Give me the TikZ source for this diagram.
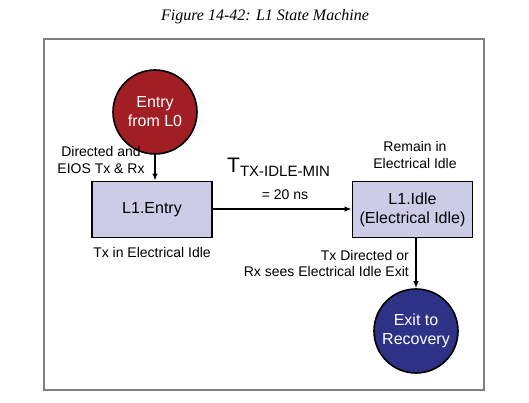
\documentclass[tikz,border=0pt]{standalone}
\usepackage{fontspec}
\setmainfont{Liberation Sans}
\newfontfamily\titlefont{Liberation Serif}
\usetikzlibrary{arrows.meta}
\definecolor{entryred}{HTML}{A11E25}
\definecolor{exitblue}{HTML}{2E3286}
\definecolor{boxfill}{HTML}{CCCCE6}
\definecolor{framegray}{HTML}{7F7F7F}
\tikzset{
  statebox/.style={draw=black, line width=1.8pt, fill=boxfill, minimum width=120pt, minimum height=56pt, align=center, font=\fontsize{16}{19}\selectfont, inner sep=0pt},
  statecirc/.style={circle, draw=black, line width=1.6pt, minimum size=84pt, inner sep=0pt, align=center, text=white, font=\fontsize{16}{19}\selectfont},
  lbl/.style={font=\fontsize{14}{17}\selectfont, inner sep=0pt},
  conn/.style={line width=1.4pt, -{Latex[length=7pt,width=5.5pt]}}
}
\begin{document}
\begin{tikzpicture}[x=1pt,y=1pt]
\useasboundingbox (0,0) rectangle (529,403);
\fill[white] (0,0) rectangle (529,403);
\node (title) at (265,386) {\titlefont\itshape\fontsize{16}{18}\selectfont Figure 14-42: L1 State Machine};
\draw[framegray, line width=1.5pt] (44,13) rectangle (484,364);
\node[statecirc, fill=entryred] (entry) at (155,291) {Entry\\from L0};
\node[statebox] (l1entry) at (152,193.5) {L1.Entry};
\node[statebox] (l1idle) at (412.5,193.5) {L1.Idle\\(Electrical Idle)};
\node[statecirc, fill=exitblue] (exit) at (416,72) {Exit to\\Recovery};
\draw[conn] (entry.south) -- (entry.south |- l1entry.north);
\draw[conn] (l1entry.east |- 0,194) -- (l1idle.west |- 0,194);
\draw[conn] (exit.north |- l1idle.south) -- (exit.north);
\node[lbl, align=center] (lblA) at (101,243) {Directed and\\EIOS Tx \& Rx};
\node[lbl] (lblB) at (152,150) {Tx in Electrical Idle};
\node[lbl, align=center] (lblC) at (415,247.5) {Remain in\\Electrical Idle};
\node[lbl, align=right, anchor=east] (lblD) at (409,139.5) {Tx Directed or\\Rx sees Electrical Idle Exit};
\node[inner sep=0pt, anchor=west] (lblT) at (227,236) {\fontsize{21}{23}\selectfont T\raisebox{-4pt}{\fontsize{15}{16}\selectfont TX-IDLE-MIN}};
\node[lbl] (lblE) at (285,208) {= 20 ns};
\end{tikzpicture}
\end{document}
